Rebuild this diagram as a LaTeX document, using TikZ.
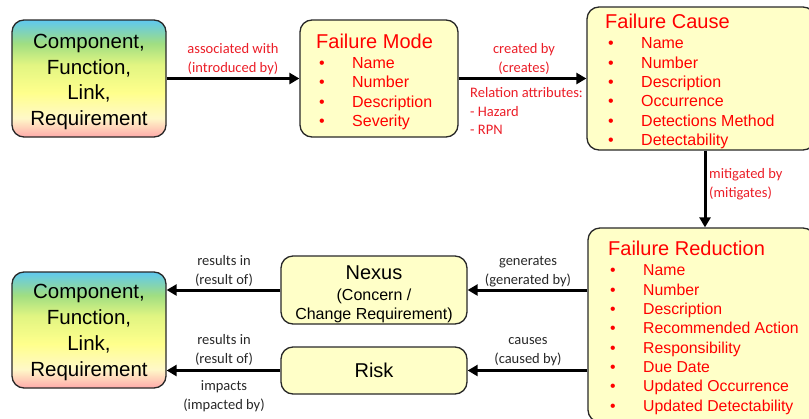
\documentclass[tikz,border=0pt]{standalone}
\usepackage{fontspec}
\setmainfont{Liberation Sans}
\newfontfamily\lblfont{Carlito}
\usetikzlibrary{arrows.meta}
\definecolor{boxfill}{RGB}{255,255,200}
\definecolor{bordc}{RGB}{40,40,40}
\definecolor{txtred}{RGB}{255,0,0}
\definecolor{lblred}{RGB}{235,30,40}
\definecolor{lblblk}{RGB}{40,40,40}
\definecolor{gblue}{RGB}{95,200,240}
\definecolor{ggreen}{RGB}{160,222,130}
\definecolor{gyelgreen}{RGB}{225,245,130}
\definecolor{gyellow}{RGB}{255,255,140}
\definecolor{gpale}{RGB}{255,248,200}
\definecolor{gpink}{RGB}{255,170,170}
\pgfdeclareverticalshading{rainbowbox}{100bp}{color(0bp)=(gpink); color(25bp)=(gpink); color(33bp)=(gpale); color(44bp)=(gyellow); color(56bp)=(gyelgreen); color(65bp)=(ggreen); color(75bp)=(gblue); color(100bp)=(gblue)}
\newcommand\blt[1]{\hspace*{#1}\makebox[33pt][l]{•}}
\newcommand\lift[1]{\rule{0pt}{#1}}
\begin{document}
\begin{tikzpicture}[x=1pt,y=-1pt,
  box/.style={draw=bordc, line width=1.3pt, rounded corners=12pt, fill=boxfill, inner sep=0pt},
  rbox/.style={box, shading=rainbowbox, align=center, font=\fontsize{20.5}{25.5}\selectfont},
  arr/.style={line width=3pt, -{Triangle[length=10pt,width=11pt]}},
  lst/.style={anchor=north west, align=left, inner sep=0pt, text=txtred},
  lbl/.style={align=center, inner sep=0pt, font=\lblfont\fontsize{14.5}{19}\selectfont},
  lblr/.style={lbl, text=lblred},
  lblb/.style={lbl, text=lblblk}]
\useasboundingbox (0,0) rectangle (809,418);
% boxes
\node[rbox, minimum width=154pt, minimum height=117pt] (cf1) at (89,78.5) {\lift{21pt}Component,\\Function,\\Link,\\Requirement};
\node[box, minimum width=158pt, minimum height=117pt] (fm) at (379,78.5) {};
\node[box, minimum width=228pt, minimum height=143pt] (fc) at (701,78.5) {};
\node[box, minimum width=227pt, minimum height=194pt] (fr) at (701.5,325) {};
\node[rbox, minimum width=154pt, minimum height=116pt, font=\fontsize{20.5}{26}\selectfont] (cf2) at (89,330) {\lift{19pt}Component,\\Function,\\Link,\\Requirement};
\node[box, minimum width=186pt, minimum height=68pt, align=center, font=\fontsize{16}{19}\selectfont] (nx) at (374,290) {\lift{22pt}{\fontsize{20}{22}\selectfont Nexus}\\[2pt](Concern /\\Change Requirement)};
\node[box, minimum width=186pt, minimum height=47pt, font=\fontsize{20}{22}\selectfont] (rk) at (374,370.5) {Risk};
% list texts
\node[lst, font=\fontsize{16}{19.5}\selectfont] (fmt) at (316,34) {{\fontsize{20}{22}\selectfont Failure Mode}\\
\blt{3pt}Name\\ \blt{3pt}Number\\ \blt{3pt}Description\\ \blt{3pt}Severity};
\node[lst, font=\fontsize{16}{19.3}\selectfont] (fct) at (605,14) {{\fontsize{20}{22}\selectfont Failure Cause}\\[1pt]
\blt{3pt}Name\\ \blt{3pt}Number\\ \blt{3pt}Description\\ \blt{3pt}Occurrence\\ \blt{3pt}Detections Method\\ \blt{3pt}Detectability};
\node[lst, font=\fontsize{15.8}{19.3}\selectfont] (frt) at (608,241) {{\fontsize{20}{22}\selectfont Failure Reduction}\\[1pt]
\blt{2pt}Name\\ \blt{2pt}Number\\ \blt{2pt}Description\\ \blt{2pt}Recommended Action\\ \blt{2pt}Responsibility\\ \blt{2pt}Due Date\\ \blt{2pt}Updated Occurrence\\ \blt{2pt}Updated Detectability};
% connectors
\draw[arr] (cf1.east) -- (fm.west);
\draw[arr] (fm.east) -- (fc.west);
\draw[arr] ([xshift=4pt]fc.south) -- ([xshift=4pt]fc.south |- fr.north);
\draw[arr] (nx.east -| fr.west) -- (nx.east);
\draw[arr] (rk.east -| fr.west) -- (rk.east);
\draw[arr] (nx.west) -- (nx.west -| cf2.east);
\draw[arr] (rk.west) -- (rk.west -| cf2.east);
% labels
\node[lblr] (l1) at (233,59) {associated with\\(introduced by)};
\node[lblr] (l2) at (524,59) {created by\\(creates)};
\node[lblr, align=left, anchor=west, font=\lblfont\fontsize{14.5}{18.3}\selectfont] (l3) at (470,111) {Relation attributes:\\- Hazard\\- RPN};
\node[lblr, align=left, anchor=west] (l4) at (709,184) {mitigated by\\(mitigates)};
\node[lblb] (l5) at (528,271.5) {generates\\(generated by)};
\node[lblb] (l6) at (528,352) {causes\\(caused by)};
\node[lblb] (l7) at (224,271) {results in\\(result of)};
\node[lblb] (l8) at (224,349.5) {results in\\(result of)};
\node[lblb] (l9) at (224,396) {impacts\\(impacted by)};
\end{tikzpicture}
\end{document}
